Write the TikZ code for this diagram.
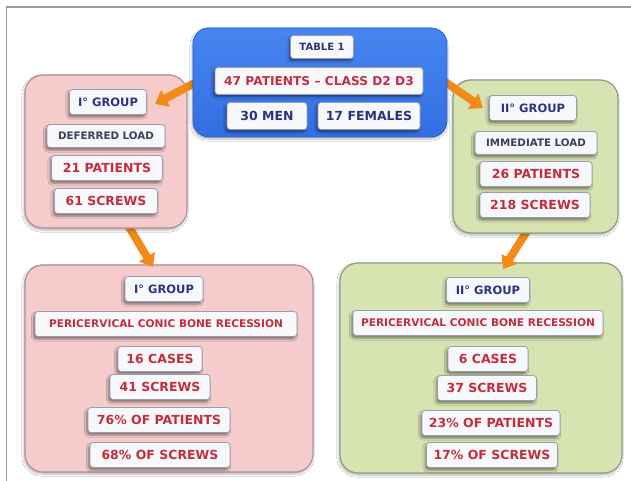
\documentclass[tikz,border=0pt]{standalone}
\usepackage{fontspec}
\setmainfont{DejaVu Sans}
\usetikzlibrary{arrows.meta,shadows.blur,calc}
\definecolor{bluetop}{HTML}{4686F0}
\definecolor{bluebot}{HTML}{336EE2}
\definecolor{bluedraw}{HTML}{2A5CC8}
\definecolor{pinkfill}{HTML}{F5CBCB}
\definecolor{pinkdraw}{HTML}{B48C9E}
\definecolor{greenfill}{HTML}{D8E3B2}
\definecolor{greendraw}{HTML}{8E9C88}
\definecolor{pillfill}{HTML}{F6F8FC}
\definecolor{pillline}{HTML}{9A9CB0}
\definecolor{navytext}{HTML}{2B3480}
\definecolor{graytext}{HTML}{3C405C}
\definecolor{redtext}{HTML}{C42E3C}
\definecolor{orangec}{HTML}{F28A18}
\definecolor{framec}{HTML}{9A9A9A}
\begin{document}
\begin{tikzpicture}[x=1pt,y=-1pt,font=\bfseries,
  bigbox/.style={rounded corners=18pt,line width=1.2pt,inner sep=0pt,
    blur shadow={shadow xshift=-1pt,shadow yshift=-2pt,shadow opacity=30,shadow blur steps=6}},
  pinkbox/.style={bigbox,fill=pinkfill,draw=pinkdraw},
  greenbox/.style={bigbox,fill=greenfill,draw=greendraw},
  bluebox/.style={bigbox,rounded corners=16pt,top color=bluetop,bottom color=bluebot,draw=bluedraw,line width=0.8pt},
  pill/.style={draw=pillline,fill=pillfill,rounded corners=3pt,line width=0.8pt,inner sep=0pt,
    minimum height=25pt,
    blur shadow={shadow xshift=-1.5pt,shadow yshift=-2.5pt,shadow opacity=45,shadow blur steps=5}},
  navy/.style={pill,text=navytext,font=\bfseries\fontsize{11.5}{13}\selectfont},
  grayp/.style={pill,text=graytext,font=\bfseries\fontsize{10.3}{12}\selectfont},
  redp/.style={pill,text=redtext,font=\bfseries\fontsize{12.5}{14}\selectfont},
  longp/.style={redp,font=\bfseries\fontsize{10.6}{12}\selectfont},
  orarrow/.style={-{Triangle[length=12pt,width=18pt]},line width=8pt,draw=orangec}]
\useasboundingbox (0,0) rectangle (631,481);
\fill[white] (0,0) rectangle (631,481);
% frame
\draw[framec,line width=1.2pt] (6.5,481) -- (6.5,7) -- (631,7);

% bottom boxes
\node[pinkbox,minimum width=288pt,minimum height=207pt] (b1) at (169,368.5) {};
\node[greenbox,minimum width=282pt,minimum height=210pt] (b2) at (481,368) {};
\node[navy,minimum width=78pt] (b1g) at (164,289) {I° GROUP};
\node[longp,minimum width=262pt] (b1p) at (166,324) {PERICERVICAL CONIC BONE RECESSION};
\node[redp,minimum width=84pt] (b1c) at (160,359) {16 CASES};
\node[redp,minimum width=100pt] (b1s) at (160,387) {41 SCREWS};
\node[redp,minimum width=142pt] (b1pp) at (159,420) {76\% OF PATIENTS};
\node[redp,minimum width=140pt] (b1ss) at (160,455) {68\% OF SCREWS};
\node[navy,minimum width=83pt] (b2g) at (488,290) {II° GROUP};
\node[longp,minimum width=250pt] (b2p) at (478,323) {PERICERVICAL CONIC BONE RECESSION};
\node[redp,minimum width=80pt] (b2c) at (488,359) {6 CASES};
\node[redp,minimum width=99pt] (b2s) at (487,388) {37 SCREWS};
\node[redp,minimum width=138pt] (b2pp) at (491,423) {23\% OF PATIENTS};
\node[redp,minimum width=131pt] (b2ss) at (492,455) {17\% OF SCREWS};

% arrows into bottom boxes
\coordinate (a3s) at (126,222);
\coordinate (a3e) at (153,267);
\coordinate (a4s) at (529,228);
\coordinate (a4e) at (503,269);
\draw[orarrow] (a3s) -- (a3e);
\draw[orarrow] (a4s) -- (a4e);

% middle boxes
\node[pinkbox,minimum width=162pt,minimum height=153pt] (g1) at (106,151.5) {};
\node[greenbox,minimum width=165pt,minimum height=153pt] (g2) at (535.5,156.5) {};
\node[navy,minimum width=77pt] (g1g) at (108,102) {I° GROUP};
\node[grayp,minimum width=118pt,minimum height=23pt] (g1d) at (106,136) {DEFERRED LOAD};
\node[redp,minimum width=111pt] (g1p) at (107,168) {21 PATIENTS};
\node[redp,minimum width=103pt] (g1s) at (106,201) {61 SCREWS};
\node[navy,minimum width=87pt] (g2g) at (533,108) {II° GROUP};
\node[grayp,minimum width=122pt,minimum height=23pt] (g2d) at (536,143) {IMMEDIATE LOAD};
\node[redp,minimum width=112pt] (g2p) at (536,174) {26 PATIENTS};
\node[redp,minimum width=110pt] (g2s) at (535,205) {218 SCREWS};

% arrows from top box
\coordinate (a1s) at (206,77);
\coordinate (a1e) at (155,104);
\coordinate (a2s) at (438,77);
\coordinate (a2e) at (483,108);
\draw[orarrow] (a1s) -- (a1e);
\draw[orarrow] (a2s) -- (a2e);

% top box
\node[bluebox,minimum width=254pt,minimum height=109pt] (top) at (320,82.5) {};
\node[navy,minimum width=63pt,minimum height=23pt,font=\bfseries\fontsize{10}{12}\selectfont] (t1) at (322,47) {TABLE 1};
\node[redp,minimum width=208pt,minimum height=27pt,font=\bfseries\fontsize{12.2}{14}\selectfont] (t2) at (319,81) {47 PATIENTS -- CLASS D2 D3};
\node[navy,minimum width=80pt,minimum height=27pt,font=\bfseries\fontsize{12.5}{14}\selectfont] (t3) at (267,116) {30 MEN};
\node[navy,minimum width=102pt,minimum height=27pt,font=\bfseries\fontsize{12.5}{14}\selectfont] (t4) at (369,116) {17 FEMALES};
\end{tikzpicture}
\end{document}
